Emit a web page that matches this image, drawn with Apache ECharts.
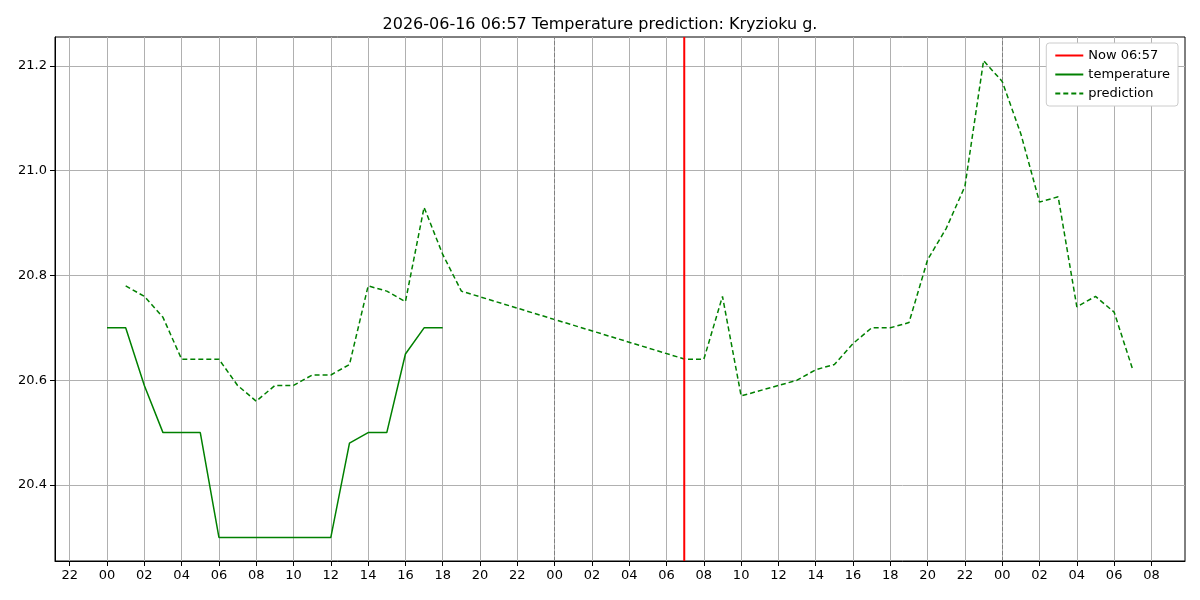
<!DOCTYPE html>
<html>
<head>
<meta charset="utf-8">
<script src="https://cdn.jsdelivr.net/npm/echarts@6/dist/echarts.min.js"></script>
<style>html,body{margin:0;padding:0;background:#fff}#chart{width:1200px;height:600px}</style>
</head>
<body>
<div id="chart"></div>
<script>
// hours counted from 2026-06-15 00:00
var tempHours = [0, 1, 2, 3, 4, 5, 6, 7, 8, 9, 10, 11, 12, 13, 14, 15, 16, 17, 18];
var tempValues = [20.7, 20.7, 20.59, 20.5, 20.5, 20.5, 20.3, 20.3, 20.3, 20.3, 20.3, 20.3, 20.3, 20.48, 20.5, 20.5, 20.65, 20.7, 20.7];
var predHours = [1, 2, 3, 4, 5, 6, 7, 8, 9, 10, 11, 12, 13, 14, 15, 16, 17, 18, 19, 31, 32, 33, 34, 37, 38, 39, 40, 41, 42, 43, 44, 45, 46, 47, 48, 49, 50, 51, 52, 53, 54, 55];
var predValues = [20.78, 20.76, 20.72, 20.64, 20.64, 20.64, 20.59, 20.56, 20.59, 20.59, 20.61, 20.61, 20.63, 20.78, 20.77, 20.75, 20.93, 20.84, 20.77, 20.64, 20.64, 20.76, 20.57, 20.60, 20.62, 20.63, 20.67, 20.70, 20.70, 20.71, 20.83, 20.89, 20.97, 21.21, 21.17, 21.07, 20.94, 20.95, 20.74, 20.76, 20.73, 20.62];
var nowHour = 30.95;
var midnights = [24, 48];
var xTicks = [];
for (var t = -2; t <= 56; t += 2) xTicks.push(t);
var yTicks = [20.4, 20.6, 20.8, 21.0, 21.2];
var yMin = 20.255, yMax = 21.255;

function zip(xs, ys) {
	var out = [];
	for (var i = 0; i < xs.length; i++) out.push([xs[i], ys[i]]);
	return out;
}

var chart = echarts.init(document.getElementById('chart'));
chart.setOption({
	animation: false,
	title: {
		text: '2026-06-16 06:57 Temperature prediction: Kryzioku g.',
		left: 'center',
		top: 12,
		textStyle: {fontFamily: 'DejaVu Sans', fontSize: 16, fontWeight: 'normal', color: '#000'}
	},
	legend: {
		orient: 'vertical',
		right: 22,
		top: 43,
		padding: [6, 8],
		itemGap: 6,
		itemWidth: 28,
		itemHeight: 10,
		borderColor: '#ccc',
		borderWidth: 1,
		borderRadius: 3,
		backgroundColor: '#fff',
		itemStyle: {opacity: 0},
		textStyle: {fontFamily: 'DejaVu Sans', fontSize: 13, color: '#000'},
		data: ['Now 06:57', 'temperature', 'prediction']
	},
	grid: {left: 55, right: 15, top: 37, bottom: 39, show: true, borderColor: '#000', borderWidth: 1},
	xAxis: {
		type: 'value',
		min: -2.79,
		max: 57.8,
		axisLine: {onZero: false, lineStyle: {color: '#000'}},
		axisTick: {customValues: xTicks, lineStyle: {color: '#000'}},
		axisLabel: {
			customValues: xTicks,
			color: '#000', fontFamily: 'DejaVu Sans', fontSize: 13,
			formatter: function (v) {
				var h = ((Math.round(v) % 24) + 24) % 24;
				return (h < 10 ? '0' : '') + h;
			}
		},
		splitLine: {show: true, lineStyle: {color: '#b0b0b0'}}
	},
	yAxis: {
		type: 'value',
		min: yMin,
		max: yMax,
		axisLine: {show: true, onZero: false, lineStyle: {color: '#000'}},
		axisTick: {show: true, customValues: yTicks, lineStyle: {color: '#000'}},
		axisLabel: {
			customValues: yTicks,
			color: '#000', fontFamily: 'DejaVu Sans', fontSize: 13,
			formatter: function (v) { return v.toFixed(1); }
		},
		splitLine: {show: true, lineStyle: {color: '#b0b0b0'}}
	},
	series: [
		{
			name: 'Now 06:57',
			type: 'line',
			symbol: 'none',
			color: '#ff0000',
			lineStyle: {color: '#ff0000', width: 2},
			data: [[nowHour, yMin], [nowHour, yMax]],
			z: 5
		},
		{
			name: 'temperature',
			type: 'line',
			symbol: 'none',
			color: '#008000',
			lineStyle: {color: '#008000', width: 1.5},
			data: zip(tempHours, tempValues),
			markLine: {
				silent: true,
				symbol: 'none',
				label: {show: false},
				lineStyle: {color: '#808080', type: 'dashed', width: 1},
				data: midnights.map(function (m) { return {xAxis: m}; })
			}
		},
		{
			name: 'prediction',
			type: 'line',
			symbol: 'none',
			color: '#008000',
			lineStyle: {color: '#008000', width: 1.5, type: [5, 3]},
			data: zip(predHours, predValues)
		}
	]
});
</script>
</body>
</html>
